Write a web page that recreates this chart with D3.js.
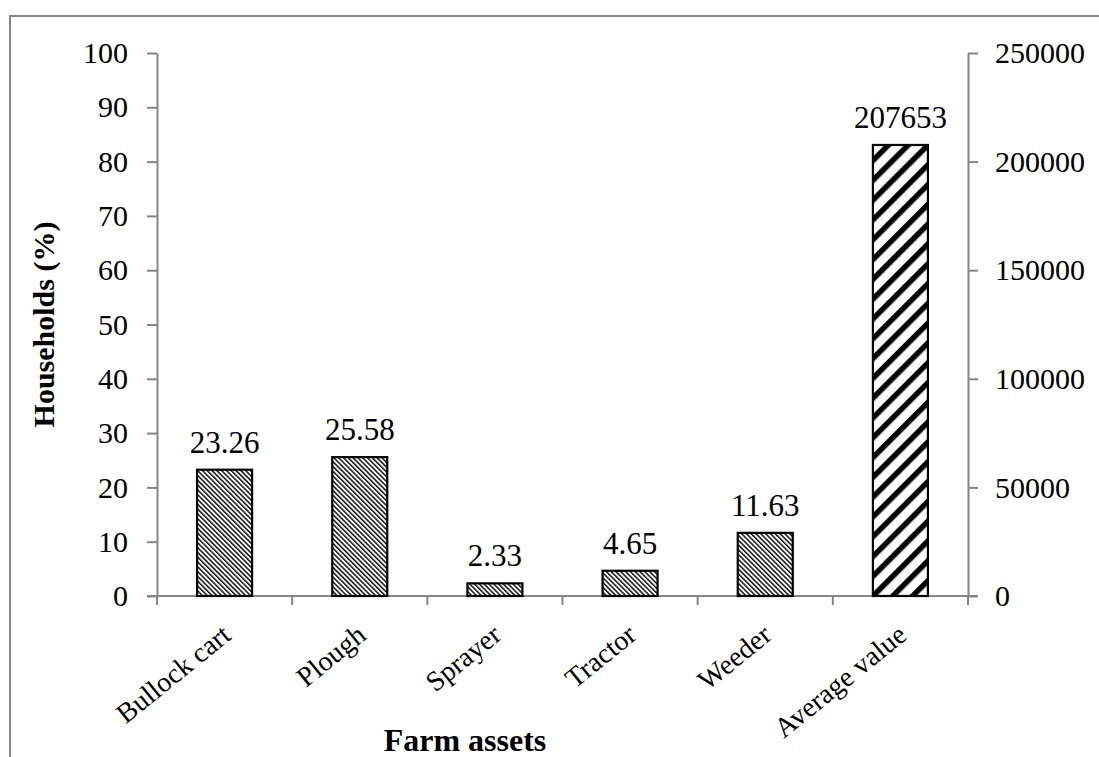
<!DOCTYPE html>
<html>
<head>
<meta charset="utf-8">
<script src="https://cdn.jsdelivr.net/npm/d3@7/dist/d3.min.js"></script>
<style>
  html, body { margin: 0; padding: 0; background: #fff; }
  svg { display: block; font-family: "Liberation Serif", "Times New Roman", serif; }
</style>
</head>
<body>
<svg id="chart" width="1099" height="757"></svg>
<script>
// Share of households owning each farm asset (%), plus the average asset value
const categories = ["Bullock cart", "Plough", "Sprayer", "Tractor", "Weeder", "Average value"];
const householdShare = [23.26, 25.58, 2.33, 4.65, 11.63];   // left axis, %
const averageValue = 207653;                               // right axis
const leftTicks = [0, 10, 20, 30, 40, 50, 60, 70, 80, 90, 100];
const rightTicks = [0, 50000, 100000, 150000, 200000, 250000];
const yTitle = "Households (%)";
const xTitle = "Farm assets";

const svg = d3.select("#chart");
const W = 1099, H = 757;
const plot = { left: 157, right: 968, top: 53, bottom: 596 };
const axisColor = "#868686";
const serif = "Liberation Serif, Times New Roman, serif";

// Hatch fills
const defs = svg.append("defs");
const fine = defs.append("pattern")
  .attr("id", "hatchFine").attr("patternUnits", "userSpaceOnUse")
  .attr("width", 3.4).attr("height", 3.4)
  .attr("patternTransform", "rotate(-45)");
fine.append("rect").attr("width", 3.4).attr("height", 3.4).attr("fill", "#fff");
fine.append("rect").attr("width", 1.5).attr("height", 3.4).attr("fill", "#111");

const bold = defs.append("pattern")
  .attr("id", "hatchBold").attr("patternUnits", "userSpaceOnUse")
  .attr("width", 14).attr("height", 14)
  .attr("patternTransform", "rotate(45)");
bold.append("rect").attr("width", 14).attr("height", 14).attr("fill", "#fff");
bold.append("rect").attr("width", 5.5).attr("height", 14).attr("fill", "#000");

// Outer chart frame
svg.append("rect")
  .attr("x", 10).attr("y", 16).attr("width", W + 20).attr("height", H + 20)
  .attr("fill", "none").attr("stroke", axisColor).attr("stroke-width", 2);

// Scales
const x = d3.scaleBand().domain(categories)
  .range([plot.left, plot.right]).paddingInner(0.593).paddingOuter(0.2965);
const yL = d3.scaleLinear().domain([0, 100]).range([plot.bottom, plot.top]);
const yR = d3.scaleLinear().domain([0, 250000]).range([plot.bottom, plot.top]);

const tickFont = 30;

// Left axis
const gL = svg.append("g").attr("transform", `translate(${plot.left},0)`)
  .call(d3.axisLeft(yL).tickValues(leftTicks).tickSize(10).tickPadding(19).tickSizeOuter(0));
// Right axis
const gR = svg.append("g").attr("transform", `translate(${plot.right},0)`)
  .call(d3.axisRight(yR).tickValues(rightTicks).tickFormat(d3.format("d"))
    .tickSize(10).tickPadding(17).tickSizeOuter(0));

[gL, gR].forEach(g => {
  g.select(".domain").attr("stroke", axisColor).attr("stroke-width", 2);
  g.selectAll(".tick line").attr("stroke", axisColor).attr("stroke-width", 2);
  g.selectAll(".tick text").attr("font-size", tickFont).attr("fill", "#000")
    .attr("font-family", serif);
});

// Category axis: baseline plus boundary ticks
const step = x.step();
const bounds = d3.range(categories.length + 1).map(i => plot.left + i * step);
svg.append("line")
  .attr("x1", plot.left - 10).attr("x2", plot.right + 10)
  .attr("y1", plot.bottom).attr("y2", plot.bottom)
  .attr("stroke", axisColor).attr("stroke-width", 2);
svg.selectAll(".xtick").data(bounds).join("line")
  .attr("class", "xtick")
  .attr("x1", d => d).attr("x2", d => d)
  .attr("y1", plot.bottom).attr("y2", plot.bottom + 9)
  .attr("stroke", axisColor).attr("stroke-width", 2);

// Category labels, rotated
svg.selectAll(".xlabel").data(categories).join("text")
  .attr("class", "xlabel")
  .attr("transform", d => `translate(${x(d) + x.bandwidth() / 2 + 8},${plot.bottom + 42}) rotate(-39)`)
  .attr("text-anchor", "end")
  .attr("font-size", 28)
  .text(d => d);

// Bars
const rows = categories.map((c, i) => i < householdShare.length
  ? { cat: c, y: yL(householdShare[i]), label: householdShare[i].toFixed(2), fill: "url(#hatchFine)" }
  : { cat: c, y: yR(averageValue), label: String(averageValue), fill: "url(#hatchBold)" });

svg.selectAll(".bar").data(rows).join("rect")
  .attr("class", "bar")
  .attr("x", d => x(d.cat)).attr("width", x.bandwidth())
  .attr("y", d => d.y).attr("height", d => plot.bottom - d.y)
  .attr("fill", d => d.fill)
  .attr("stroke", "#000").attr("stroke-width", 2.2);

// Value labels
svg.selectAll(".vlabel").data(rows).join("text")
  .attr("class", "vlabel")
  .attr("x", d => x(d.cat) + x.bandwidth() / 2)
  .attr("y", d => d.y - 17)
  .attr("text-anchor", "middle")
  .attr("font-size", 31)
  .text(d => d.label);

// Axis titles
svg.append("text")
  .attr("transform", `translate(54,${(plot.top + plot.bottom) / 2}) rotate(-90)`)
  .attr("text-anchor", "middle").attr("font-weight", "bold").attr("font-size", 30)
  .text(yTitle);
svg.append("text")
  .attr("x", 465).attr("y", 751)
  .attr("text-anchor", "middle").attr("font-weight", "bold").attr("font-size", 32)
  .text(xTitle);
</script>
</body>
</html>
